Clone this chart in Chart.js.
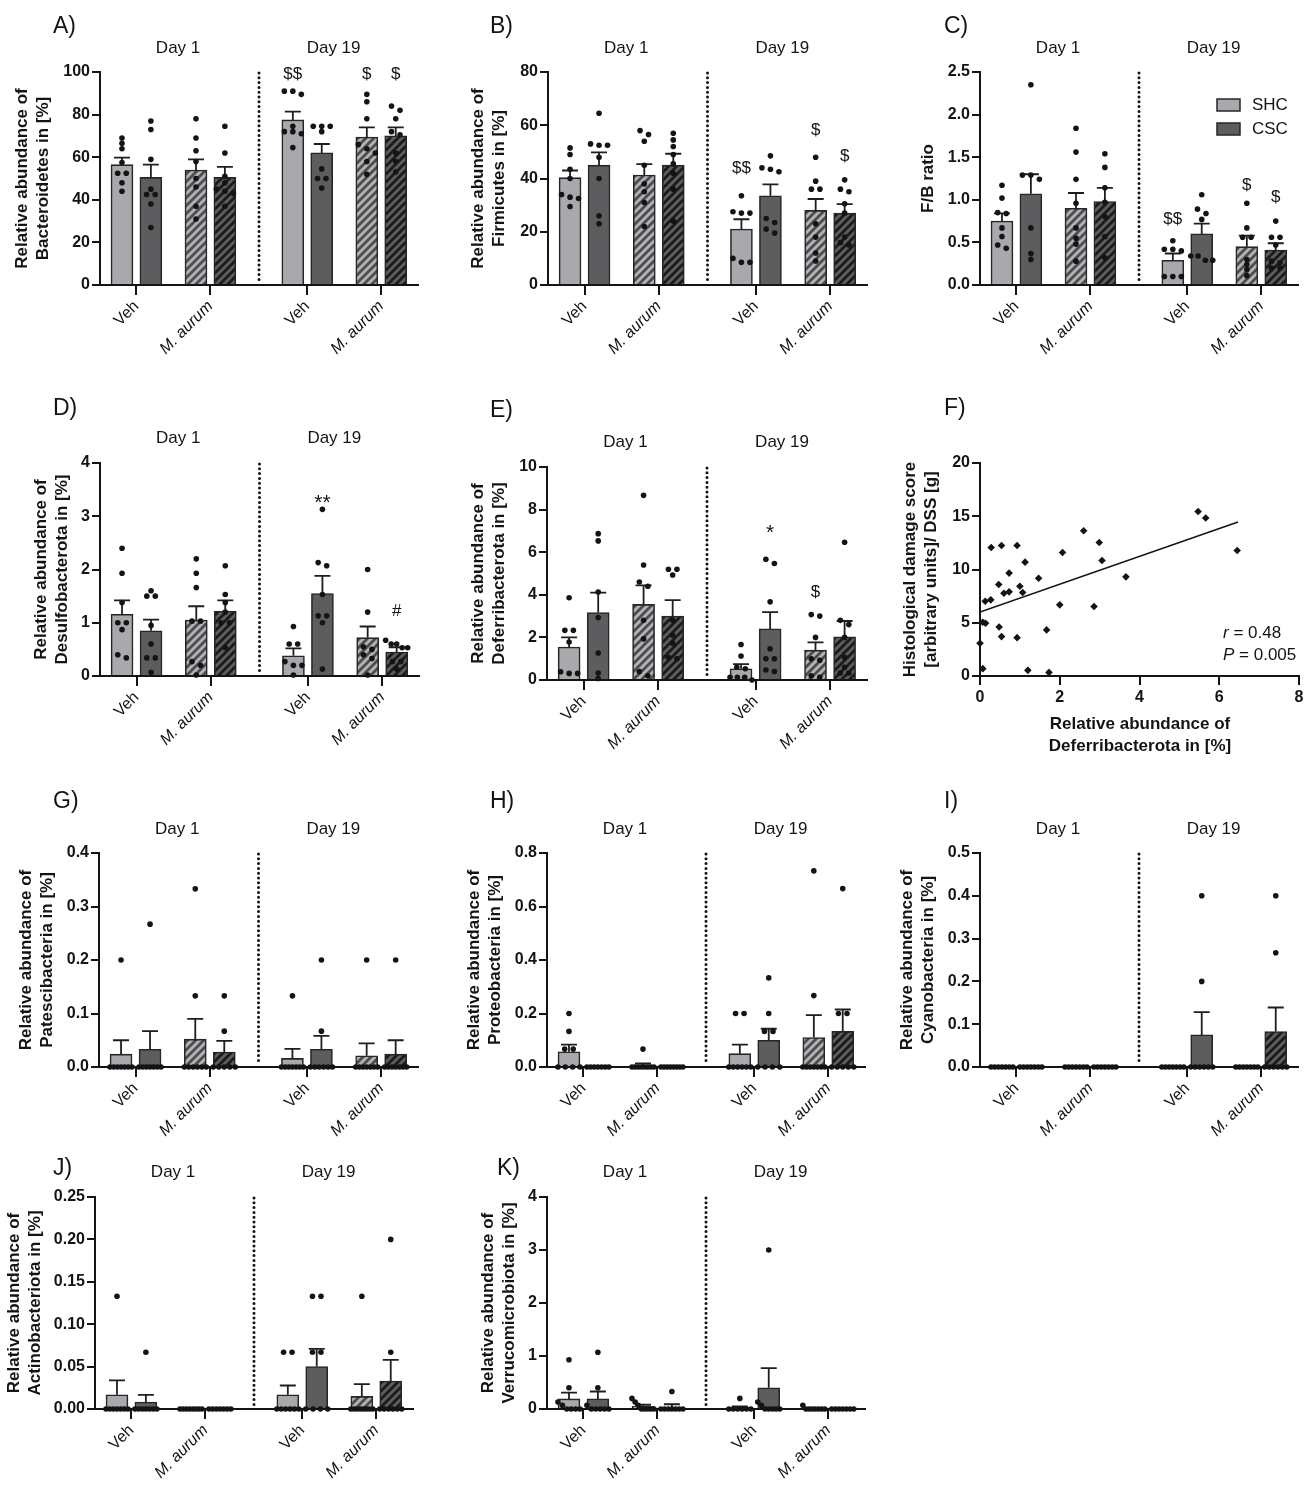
<!DOCTYPE html>
<html lang="en">
<head>
<meta charset="UTF-8">
<title>Relative abundance of phyla</title>
<script src="https://cdn.jsdelivr.net/npm/chart.js"></script>
<style>
  body { margin: 0; background: #fff; }
  #page { position: relative; width: 1312px; height: 1486px; overflow: hidden; }
  #page canvas { position: absolute; }
</style>
</head>
<body>
<div id="page"></div>
<script>
// ---- data (bar order: SHC Veh d1, CSC Veh d1, SHC M.aurum d1, CSC M.aurum d1, then the same for day 19)
const groupLabels = ['Veh', 'M. aurum', 'Veh', 'M. aurum'];
const dayLabels = ['Day 1', 'Day 19'];
const legendLabels = ['SHC', 'CSC'];

// A) Bacteroidetes
const bactMean = [56.5, 50.5, 54, 50.5, 77.5, 62, 69.5, 70];
const bactSem = [3.3, 6, 5, 5, 3.9, 4.2, 4.5, 4];
const bactDots = [
  [69, 66.5, 64, 57.5, 52.5, 52.5, 48, 44],
  [77, 73, 59, 45, 42.5, 42.5, 38, 27],
  [78, 69, 63, 58, 50, 46, 37, 31],
  [74.5, 62, 51, 48, 45, 44, 43, 37],
  [91, 91, 89.5, 74.5, 72, 72, 71, 64.5],
  [74.5, 74.5, 74.5, 72, 54.5, 50, 50, 45.5],
  [89.5, 86, 78, 66, 64, 62, 58, 52],
  [84, 82, 78, 72, 70.5, 62, 58, 53]
];
const bactSig = [{bar: 4, text: '$$', y: 99}, {bar: 6, text: '$', y: 99}, {bar: 7, text: '$', y: 99}];

// B) Firmicutes
const firmMean = [40.3, 45, 41.3, 45, 21, 33.5, 28, 27];
const firmSem = [2.7, 4.8, 4.1, 4.3, 3.7, 4.3, 4.3, 3.4];
const firmDots = [
  [51.5, 49, 43.5, 40, 34, 33, 32.5, 29.5],
  [64.5, 53, 52.5, 52.5, 48, 40, 26, 23],
  [58, 56.5, 54, 45, 38, 35, 31, 22],
  [57, 54.5, 52, 49, 45.5, 42, 36, 24],
  [33.5, 27.5, 27, 27, 10, 8.5, 8.5],
  [48.5, 44, 43.5, 42.5, 25, 23.5, 21, 19.5],
  [48, 39, 36, 36, 23, 18, 12, 9],
  [39.5, 36, 35, 30.5, 27, 18, 16, 15]
];
const firmSig = [{bar: 4, text: '$$', y: 44}, {bar: 6, text: '$', y: 58}, {bar: 7, text: '$', y: 48.5}];

// C) F/B ratio
const fbMean = [0.75, 1.07, 0.90, 0.98, 0.29, 0.60, 0.45, 0.41];
const fbSem = [0.09, 0.23, 0.18, 0.16, 0.08, 0.12, 0.13, 0.08];
const fbDots = [
  [1.17, 1.02, 0.85, 0.84, 0.67, 0.57, 0.47, 0.43],
  [2.35, 1.29, 1.29, 1.24, 0.67, 0.37, 0.30],
  [1.84, 1.56, 1.24, 0.96, 0.67, 0.55, 0.48, 0.28],
  [1.54, 1.38, 1.14, 0.97, 0.80, 0.57, 0.32],
  [0.52, 0.42, 0.42, 0.40, 0.10, 0.10, 0.10],
  [1.06, 0.89, 0.84, 0.77, 0.34, 0.34, 0.29, 0.29],
  [0.96, 0.67, 0.56, 0.56, 0.30, 0.24, 0.18, 0.11],
  [0.75, 0.56, 0.56, 0.47, 0.28, 0.26, 0.20, 0.20]
];
const fbSig = [{bar: 4, text: '$$', y: 0.77}, {bar: 6, text: '$', y: 1.17}, {bar: 7, text: '$', y: 1.03}];

// D) Desulfobacterota
const desMean = [1.16, 0.85, 1.05, 1.22, 0.38, 1.55, 0.72, 0.45];
const desSem = [0.26, 0.21, 0.26, 0.20, 0.14, 0.33, 0.21, 0.09];
const desDots = [
  [2.4, 1.93, 1.38, 1.0, 1.0, 0.87, 0.4, 0.34],
  [1.6, 1.5, 1.5, 0.95, 0.6, 0.34, 0.34, 0.07],
  [2.2, 1.93, 1.66, 1.03, 1.03, 0.27, 0.2, 0.02],
  [2.07, 1.53, 1.38, 1.2, 1.0, 1.0, 0.53],
  [0.93, 0.6, 0.6, 0.27, 0.2, 0.2, 0.02],
  [3.13, 2.13, 2.07, 1.53, 1.13, 1.13, 1.0, 0.13],
  [2.0, 1.2, 0.55, 0.5, 0.4, 0.33, 0.02],
  [0.67, 0.6, 0.6, 0.53, 0.53, 0.27, 0.27, 0.13]
];
const desSig = [{bar: 5, text: '**', y: 3.25}, {bar: 7, text: '#', y: 1.22}];

// E) Deferribacterota
const defMean = [1.55, 3.17, 3.55, 3.0, 0.53, 2.4, 1.4, 2.03];
const defSem = [0.45, 0.93, 0.89, 0.75, 0.22, 0.79, 0.37, 0.74];
const defDots = [
  [3.86, 2.33, 2.33, 1.78, 0.39, 0.31, 0.31],
  [6.87, 6.53, 4.13, 2.93, 1.27, 0.33, 0.07],
  [8.67, 5.4, 4.6, 4.4, 2.8, 1.93, 0.4, 0.2],
  [5.2, 5.2, 4.93, 2.8, 2.1, 1.73, 1.07, 1.0],
  [1.67, 1.13, 0.6, 0.53, 0.13, 0.13, 0.13, 0],
  [5.67, 5.47, 3.67, 1.47, 1.0, 1.0, 0.47, 0.4],
  [3.07, 3.0, 2.0, 1.0, 0.93, 0.2, 0.13],
  [6.47, 2.8, 2.6, 2.0, 1.07, 0.6, 0.33, 0.33]
];
const defSig = [{bar: 5, text: '*', y: 6.9}, {bar: 6, text: '$', y: 4.1}];

// F) correlation
const corrAbund = [5.47, 5.66, 6.45, 2.6, 2.99, 3.06, 3.66, 2.07, 2.0, 2.86, 1.67, 1.47, 1.2, 1.73,
  0.93, 0.54, 0.28, 1.13, 0.73, 0.47, 1.0, 1.07, 0.73, 0.6, 0.27, 0.13, 0.07, 0.14, 0.48, 0.54, 0.93, 0.0, 0.07];
const corrScore = [15.45, 14.83, 11.79, 13.64, 12.54, 10.85, 9.31, 11.6, 6.68, 6.52, 4.33, 9.18, 0.53, 0.34,
  12.26, 12.26, 12.07, 10.69, 9.66, 8.59, 8.43, 7.84, 7.9, 7.77, 7.15, 7.02, 5.05, 4.95, 4.6, 3.7, 3.6, 3.07, 0.69];
const fitX = [0, 6.47];
const fitY = [6.0, 14.45];

// G) Patescibacteria
const pateMean = [0.024, 0.033, 0.052, 0.028, 0.016, 0.033, 0.021, 0.024];
const pateSem = [0.026, 0.034, 0.038, 0.021, 0.018, 0.025, 0.023, 0.026];
const pateDots = [
  [0.2, 0, 0, 0, 0, 0, 0, 0],
  [0.267, 0, 0, 0, 0, 0, 0, 0],
  [0.333, 0.133, 0, 0, 0, 0, 0, 0],
  [0.133, 0.067, 0, 0, 0, 0, 0],
  [0.133, 0, 0, 0, 0, 0, 0, 0],
  [0.2, 0.067, 0, 0, 0, 0, 0, 0],
  [0.2, 0, 0, 0, 0, 0, 0, 0],
  [0.2, 0, 0, 0, 0, 0, 0, 0]
];

// H) Proteobacteria
const protMean = [0.057, 0, 0.007, 0, 0.05, 0.1, 0.11, 0.133];
const protSem = [0.027, 0, 0.006, 0, 0.034, 0.043, 0.084, 0.082];
const protDots = [
  [0.2, 0.133, 0.067, 0.067, 0, 0, 0, 0],
  [0, 0, 0, 0, 0, 0, 0],
  [0.067, 0, 0, 0, 0, 0, 0, 0, 0],
  [0, 0, 0, 0, 0, 0, 0, 0],
  [0.2, 0.2, 0, 0, 0, 0, 0, 0],
  [0.333, 0.2, 0.133, 0.133, 0, 0, 0, 0],
  [0.733, 0.267, 0, 0, 0, 0, 0, 0, 0],
  [0.667, 0.2, 0.2, 0, 0, 0, 0, 0]
];

// I) Cyanobacteria
const cyanMean = [0, 0, 0, 0, 0, 0.075, 0, 0.083];
const cyanSem = [0, 0, 0, 0, 0, 0.053, 0, 0.056];
const cyanDots = [
  [0, 0, 0, 0, 0, 0, 0],
  [0, 0, 0, 0, 0, 0, 0],
  [0, 0, 0, 0, 0, 0, 0],
  [0, 0, 0, 0, 0, 0, 0],
  [0, 0, 0, 0, 0, 0, 0],
  [0.4, 0.2, 0, 0, 0, 0, 0, 0],
  [0, 0, 0, 0, 0, 0, 0],
  [0.4, 0.267, 0, 0, 0, 0, 0, 0]
];

// J) Actinobacteriota
const actMean = [0.0167, 0.0083, 0, 0, 0.0167, 0.05, 0.0148, 0.033];
const actSem = [0.017, 0.0083, 0, 0, 0.011, 0.021, 0.0145, 0.025];
const actDots = [
  [0.133, 0, 0, 0, 0, 0, 0, 0],
  [0.067, 0, 0, 0, 0, 0, 0, 0],
  [0, 0, 0, 0, 0, 0, 0, 0],
  [0, 0, 0, 0, 0, 0, 0],
  [0.067, 0.067, 0, 0, 0, 0, 0, 0],
  [0.133, 0.133, 0.067, 0.067, 0, 0, 0, 0],
  [0.133, 0, 0, 0, 0, 0, 0, 0, 0],
  [0.2, 0.067, 0, 0, 0, 0, 0, 0]
];

// K) Verrucomicrobiota
const verrMean = [0.19, 0.19, 0.05, 0.03, 0.03, 0.4, 0.008, 0];
const verrSem = [0.12, 0.14, 0.03, 0.06, 0.02, 0.37, 0.004, 0];
const verrDots = [
  [0.93, 0.4, 0.13, 0.07, 0, 0, 0, 0],
  [1.07, 0.4, 0.07, 0, 0, 0, 0, 0],
  [0.2, 0.13, 0.07, 0, 0, 0, 0, 0],
  [0.33, 0, 0, 0, 0, 0, 0, 0],
  [0.2, 0, 0, 0, 0, 0, 0],
  [3.0, 0.13, 0.07, 0, 0, 0, 0, 0],
  [0.07, 0, 0, 0, 0, 0, 0, 0],
  [0, 0, 0, 0, 0, 0, 0]
];

// ---- layout and styles
const FONT = "'Liberation Sans', Arial, Helvetica, sans-serif";
const INK = '#141414';
const EDGE = '#262626';
const SHC_FILL = '#a8a8ad';
const CSC_FILL = '#5d5d5f';
const X_MAX = 11;
const barX = [0.76, 1.76, 3.32, 4.32, 6.67, 7.67, 9.23, 10.23];
const groupX = [1.26, 3.82, 7.17, 9.73];
const dayX = [2.7, 8.08];
const DIVIDER_X = 5.5;

// page boxes [left, top, width, height], plot area [axisX, top, right, bottom]
const layout = {
  A: {box: [0, 0, 435, 390], axis: [100, 72, 418, 285], letter: [53, 33], dayY: 53, titleX: 33},
  B: {box: [435, 0, 435, 390], axis: [548, 72, 867, 285], letter: [490, 33], dayY: 53, titleX: 489},
  C: {box: [870, 0, 442, 390], axis: [980, 72, 1298, 285], letter: [944, 33], dayY: 53, titleX: 928},
  D: {box: [0, 390, 435, 390], axis: [100, 463, 419, 676], letter: [53, 415], dayY: 443, titleX: 52},
  E: {box: [435, 390, 435, 390], axis: [547, 467, 867, 680], letter: [490, 417], dayY: 447, titleX: 489},
  F: {box: [870, 390, 442, 390], axis: [980, 463, 1299, 676], letter: [944, 415], titleX: 921},
  G: {box: [0, 780, 435, 360], axis: [99, 853, 418, 1067], letter: [53, 808], dayY: 834, titleX: 37},
  H: {box: [435, 780, 435, 360], axis: [547, 853, 865, 1067], letter: [490, 808], dayY: 834, titleX: 485},
  I: {box: [870, 780, 442, 360], axis: [980, 853, 1298, 1067], letter: [944, 808], dayY: 834, titleX: 918},
  J: {box: [0, 1140, 435, 346], axis: [95, 1197, 413, 1409], letter: [53, 1175], dayY: 1177, titleX: 25},
  K: {box: [435, 1140, 435, 346], axis: [547, 1197, 865, 1409], letter: [497, 1175], dayY: 1177, titleX: 499}
};

Chart.defaults.font.family = FONT;
Chart.defaults.color = INK;
const page = document.getElementById('page');

function hatch(base, stripe) {
  const c = document.createElement('canvas');
  c.width = 8; c.height = 8;
  const g = c.getContext('2d');
  g.fillStyle = base;
  g.fillRect(0, 0, 8, 8);
  g.strokeStyle = stripe;
  g.lineWidth = 2.7;
  g.beginPath();
  g.moveTo(-2, 10); g.lineTo(10, -2);
  g.moveTo(-2, 2); g.lineTo(2, -2);
  g.moveTo(6, 10); g.lineTo(10, 6);
  g.stroke();
  return g.createPattern(c, 'repeat');
}
const barFills = [SHC_FILL, CSC_FILL, hatch('#b2b2b6', '#4c4c4f'), hatch('#5d5d5f', '#1a1a1a'),
  SHC_FILL, CSC_FILL, hatch('#b2b2b6', '#4c4c4f'), hatch('#5d5d5f', '#1a1a1a')];

// spread dots of similar height sideways, like a column scatter
function swarm(cx, vals, pxX, pxY) {
  const order = vals.map((v, i) => i).sort((a, b) => vals[b] - vals[a]);
  const pts = [];
  let run = [];
  const flush = () => {
    const k = run.length;
    const step = k > 3 ? Math.min(8, 22 / (k - 1)) : 8.5;
    run.forEach((i, j) => pts.push({x: cx + (j - (k - 1) / 2) * step / pxX, y: vals[i]}));
    run = [];
  };
  order.forEach(i => {
    if (run.length && (vals[run[run.length - 1]] - vals[i]) * pxY > 5) flush();
    run.push(i);
  });
  flush();
  return pts;
}

function makeCanvas(L) {
  const [bx, by, bw, bh] = L.box;
  const canvas = document.createElement('canvas');
  canvas.width = bw; canvas.height = bh;
  canvas.style.left = bx + 'px'; canvas.style.top = by + 'px';
  canvas.style.width = bw + 'px'; canvas.style.height = bh + 'px';
  page.appendChild(canvas);
  return canvas;
}

function drawYTitle(ctx, L, ca, lines) {
  ctx.save();
  ctx.translate(L.titleX - L.box[0], (ca.top + ca.bottom) / 2);
  ctx.rotate(-Math.PI / 2);
  ctx.font = 'bold 17px ' + FONT;
  ctx.fillStyle = INK;
  ctx.textAlign = 'center';
  ctx.textBaseline = 'middle';
  lines.forEach((t, j) => ctx.fillText(t, 0, (j - (lines.length - 1) / 2) * 21));
  ctx.restore();
}

function drawLetter(ctx, key, L) {
  ctx.save();
  ctx.font = '23px ' + FONT;
  ctx.fillStyle = INK;
  ctx.textAlign = 'left';
  ctx.textBaseline = 'alphabetic';
  ctx.fillText(key + ')', L.letter[0] - L.box[0], L.letter[1] - L.box[1]);
  ctx.restore();
}

function decor(key, spec, L) {
  return {
    id: 'decor' + key,
    beforeDatasetsDraw(chart) {
      const {ctx, chartArea: ca, scales: {x}} = chart;
      const px = x.getPixelForValue(DIVIDER_X);
      ctx.save();
      ctx.strokeStyle = INK;
      ctx.lineWidth = 3;
      ctx.lineCap = 'round';
      ctx.setLineDash([0, 4.8]);
      ctx.beginPath();
      ctx.moveTo(px, ca.top + 1);
      ctx.lineTo(px, ca.bottom - 4);
      ctx.stroke();
      ctx.restore();
    },
    afterDatasetDraw(chart, args) {
      if (args.meta.type !== 'bar') return;
      const {ctx, scales: {x, y}} = chart;
      ctx.save();
      ctx.strokeStyle = '#1e1e1e';
      ctx.lineWidth = 1.8;
      spec.mean.forEach((m, i) => {
        if (!spec.sem[i]) return;
        const px = x.getPixelForValue(barX[i]);
        const y0 = y.getPixelForValue(m);
        const y1 = y.getPixelForValue(m + spec.sem[i]);
        ctx.beginPath();
        ctx.moveTo(px, y0); ctx.lineTo(px, y1);
        ctx.moveTo(px - 8, y1); ctx.lineTo(px + 8, y1);
        ctx.stroke();
      });
      ctx.restore();
    },
    afterDraw(chart) {
      const {ctx, chartArea: ca, scales: {x, y}} = chart;
      const [bx, by] = L.box;
      drawLetter(ctx, key, L);
      drawYTitle(ctx, L, ca, spec.title);
      ctx.save();
      ctx.fillStyle = INK;
      ctx.textAlign = 'center';
      ctx.textBaseline = 'alphabetic';
      ctx.font = '17px ' + FONT;
      dayLabels.forEach((t, i) => ctx.fillText(t, x.getPixelForValue(dayX[i]), L.dayY - by));
      ctx.textBaseline = 'middle';
      (spec.sig || []).forEach(s => {
        ctx.font = (s.text.includes('*') ? '21px ' : '17px ') + FONT;
        ctx.fillText(s.text, x.getPixelForValue(barX[s.bar]), y.getPixelForValue(s.y));
      });
      if (spec.legend) {
        ctx.font = '17px ' + FONT;
        ctx.textAlign = 'left';
        [SHC_FILL, CSC_FILL].forEach((c, i) => {
          const top = 99 + i * 24 - by;
          ctx.fillStyle = c;
          ctx.fillRect(1217 - bx, top, 23, 12);
          ctx.strokeStyle = EDGE;
          ctx.lineWidth = 1.5;
          ctx.strokeRect(1217 - bx, top, 23, 12);
          ctx.fillStyle = INK;
          ctx.fillText(legendLabels[i], 1252 - bx, top + 6.5);
        });
      }
      ctx.restore();
    }
  };
}

function axisStyle(len) {
  return {
    grid: {drawOnChartArea: false, drawTicks: true, tickLength: len, color: INK, lineWidth: 2, offset: false},
    border: {display: true, color: INK, width: 2}
  };
}

function barPanel(key, spec) {
  const L = layout[key];
  const [bx, by, bw, bh] = L.box;
  const [ax, at, ar, ab] = L.axis;
  const canvas = makeCanvas(L);
  const pxX = (ar - ax) / X_MAX;
  const pxY = (ab - at) / spec.ymax;
  const dots = [];
  spec.dots.forEach((vals, i) => dots.push(...swarm(barX[i], vals, pxX, pxY)));

  new Chart(canvas, {
    type: 'bar',
    data: {
      datasets: [
        {type: 'scatter', data: dots, order: 1, clip: false, pointRadius: 2.8, pointHoverRadius: 2.8,
          pointBackgroundColor: INK, pointBorderWidth: 0},
        {type: 'bar', data: spec.mean.map((m, i) => ({x: barX[i], y: m})), order: 2,
          backgroundColor: barFills, borderColor: EDGE, borderWidth: 1.6, borderSkipped: 'start', barThickness: 22}
      ]
    },
    options: {
      responsive: false, animation: false, events: [],
      layout: {padding: {top: at - by, right: bx + bw - ar, left: 0, bottom: 0}},
      plugins: {legend: {display: false}, tooltip: {enabled: false}},
      scales: {
        x: Object.assign(axisStyle(10), {
          type: 'linear', min: 0, max: X_MAX, offset: false,
          afterBuildTicks: s => { s.ticks = groupX.map(v => ({value: v})); },
          afterFit: s => { s.height = by + bh - ab; },
          ticks: {
            autoSkip: false, minRotation: 45, maxRotation: 45, color: INK, padding: 2,
            font: c => ({family: FONT, size: 16, style: c.index % 2 === 1 ? 'italic' : 'normal'}),
            callback: (v, i) => groupLabels[i]
          }
        }),
        y: Object.assign(axisStyle(8), {
          min: 0, max: spec.ymax,
          afterFit: s => { s.width = ax - bx; },
          ticks: {stepSize: spec.step, color: INK, padding: 2, font: {family: FONT, size: 16, weight: 'bold'},
            callback: v => Number(v).toFixed(spec.dec)}
        })
      }
    },
    plugins: [decor(key, spec, L)]
  });
}

function corrPanel() {
  const L = layout.F;
  const [bx, by, bw, bh] = L.box;
  const [ax, at, ar, ab] = L.axis;
  const canvas = makeCanvas(L);
  new Chart(canvas, {
    type: 'scatter',
    data: {
      datasets: [
        {data: corrAbund.map((v, i) => ({x: v, y: corrScore[i]})), order: 1, clip: false,
          pointStyle: 'rectRot', pointRadius: 3.8, pointHoverRadius: 3.8, pointBackgroundColor: INK, pointBorderWidth: 0},
        {type: 'line', data: fitX.map((v, i) => ({x: v, y: fitY[i]})), order: 2,
          borderColor: INK, borderWidth: 1.6, pointRadius: 0, fill: false}
      ]
    },
    options: {
      responsive: false, animation: false, events: [],
      layout: {padding: {top: at - by, right: bx + bw - ar, left: 0, bottom: 0}},
      plugins: {legend: {display: false}, tooltip: {enabled: false}},
      scales: {
        x: Object.assign(axisStyle(9), {
          type: 'linear', min: 0, max: 8,
          afterFit: s => { s.height = by + bh - ab; },
          ticks: {stepSize: 2, color: INK, padding: 3, maxRotation: 0, font: {family: FONT, size: 16, weight: 'bold'}}
        }),
        y: Object.assign(axisStyle(8), {
          min: 0, max: 20,
          afterFit: s => { s.width = ax - bx; },
          ticks: {stepSize: 5, color: INK, padding: 2, font: {family: FONT, size: 16, weight: 'bold'}}
        })
      }
    },
    plugins: [{
      id: 'decorF',
      afterDraw(chart) {
        const {ctx, chartArea: ca} = chart;
        drawLetter(ctx, 'F', L);
        drawYTitle(ctx, L, ca, ['Histological damage score', '[arbitrary units]/ DSS [g]']);
        ctx.save();
        ctx.fillStyle = INK;
        ctx.textAlign = 'center';
        ctx.font = 'bold 17px ' + FONT;
        ctx.fillText('Relative abundance of', 1140 - bx, 729 - by);
        ctx.fillText('Deferribacterota in [%]', 1140 - bx, 751 - by);
        ctx.textAlign = 'left';
        [['r', ' = 0.48', 638], ['P', ' = 0.005', 660]].forEach(([v, rest, yy]) => {
          ctx.font = 'italic 17px ' + FONT;
          ctx.fillText(v, 1223 - bx, yy - by);
          const w = ctx.measureText(v).width;
          ctx.font = '17px ' + FONT;
          ctx.fillText(rest, 1223 - bx + w, yy - by);
        });
        ctx.restore();
      }
    }]
  });
}

const rel = name => ['Relative abundance of', name + ' in [%]'];
barPanel('A', {mean: bactMean, sem: bactSem, dots: bactDots, sig: bactSig, ymax: 100, step: 20, dec: 0, title: rel('Bacteroidetes')});
barPanel('B', {mean: firmMean, sem: firmSem, dots: firmDots, sig: firmSig, ymax: 80, step: 20, dec: 0, title: rel('Firmicutes')});
barPanel('C', {mean: fbMean, sem: fbSem, dots: fbDots, sig: fbSig, ymax: 2.5, step: 0.5, dec: 1, title: ['F/B ratio'], legend: true});
barPanel('D', {mean: desMean, sem: desSem, dots: desDots, sig: desSig, ymax: 4, step: 1, dec: 0, title: rel('Desulfobacterota')});
barPanel('E', {mean: defMean, sem: defSem, dots: defDots, sig: defSig, ymax: 10, step: 2, dec: 0, title: rel('Deferribacterota')});
corrPanel();
barPanel('G', {mean: pateMean, sem: pateSem, dots: pateDots, ymax: 0.4, step: 0.1, dec: 1, title: rel('Patescibacteria')});
barPanel('H', {mean: protMean, sem: protSem, dots: protDots, ymax: 0.8, step: 0.2, dec: 1, title: rel('Proteobacteria')});
barPanel('I', {mean: cyanMean, sem: cyanSem, dots: cyanDots, ymax: 0.5, step: 0.1, dec: 1, title: rel('Cyanobacteria')});
barPanel('J', {mean: actMean, sem: actSem, dots: actDots, ymax: 0.25, step: 0.05, dec: 2, title: rel('Actinobacteriota')});
barPanel('K', {mean: verrMean, sem: verrSem, dots: verrDots, ymax: 4, step: 1, dec: 0, title: rel('Verrucomicrobiota')});
</script>
</body>
</html>
